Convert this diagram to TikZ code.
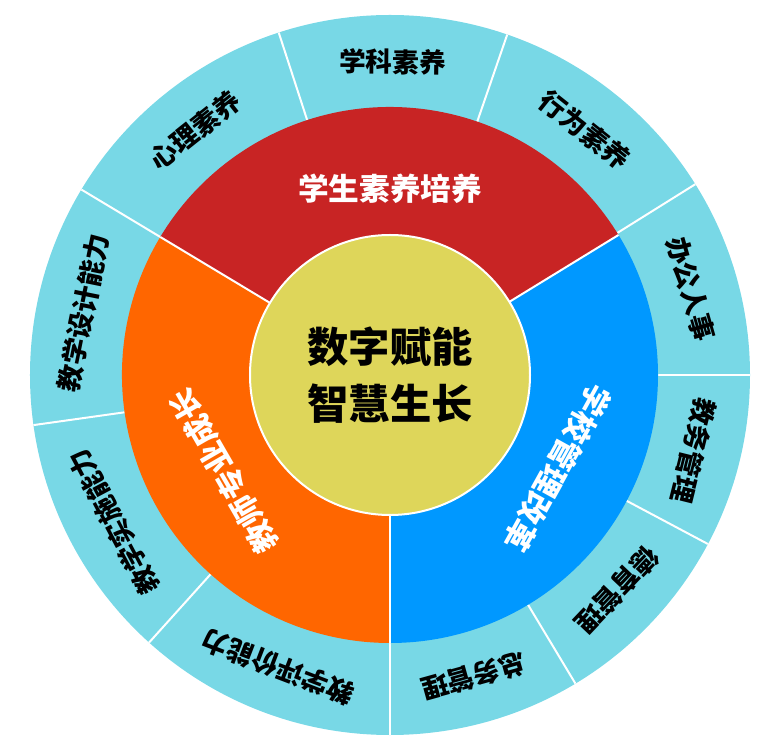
\documentclass[tikz,border=0pt]{standalone}
\usepackage{fontspec}
\newfontfamily\cjk{Noto Sans CJK SC}
\usepackage{xcolor}
\definecolor{ringcyan}{RGB}{120,216,230}
\definecolor{segred}{RGB}{200,36,36}
\definecolor{segorange}{RGB}{255,102,0}
\definecolor{segblue}{RGB}{0,152,255}
\definecolor{coreyellow}{RGB}{222,214,90}
\usetikzlibrary{positioning}
\tikzstyle{outerlabel} = [
    font=\cjk\bfseries\fontsize{20}{20}\selectfont, text=black, inner sep=1pt,
]
\tikzstyle{midlabel} = [
    font=\cjk\bfseries\fontsize{23}{23}\selectfont, text=white, inner sep=1pt,
]
\tikzstyle{sep} = [white, line width=1.5pt]

\begin{document}
\begin{tikzpicture}[x=0.75pt,y=0.75pt]
    \useasboundingbox (-390,-370) rectangle (394,375);
    % outer ring
    \fill[ringcyan] (0,0) circle (360);
    \foreach \a in {108,71,32,0,-28,-59,-90,-132,-172,149}
        \draw[sep] (\a:268) -- (\a:360);
    % middle ring
    \fill[segred] (0,0) -- (31.5:268) arc[start angle=31.5,end angle=149,radius=268] -- cycle;
    \fill[segorange] (0,0) -- (149:268) arc[start angle=149,end angle=270,radius=268] -- cycle;
    \fill[segblue] (0,0) -- (-90:268) arc[start angle=-90,end angle=31.5,radius=268] -- cycle;
    \foreach \a in {31.5,149,-90}
        \draw[sep] (0,0) -- (\a:268);
    % core
    \fill[coreyellow] (0,0) circle (140);
    \draw[sep] (0,0) circle (140);
    \node[font=\cjk\bfseries\fontsize{31}{31}\selectfont, align=center] (core)
        at (0,0) {数字赋能\\[12pt]智慧生长};

    \node[midlabel] (student) at (90:186) {学生素养培养};
    \node[midlabel, rotate=120] (teacher) at (210:192) {教师专业成长};
    \node[midlabel, rotate=-119] (school) at (-29:192) {学校管理改革};

    \foreach \m/\t [count=\i] in {89.5/学科素养, 51.5/行为素养, 16/办公人事, -14/教务管理,
        -43.5/德育管理, -74.5/总务管理, -111/教学评价能力, -152/教学实施能力,
        168.5/教学设计能力, 128.5/心理素养}
        \node[outerlabel, rotate=\m-90] (out\i) at (\m:313) {\t};
\end{tikzpicture}
\end{document}
